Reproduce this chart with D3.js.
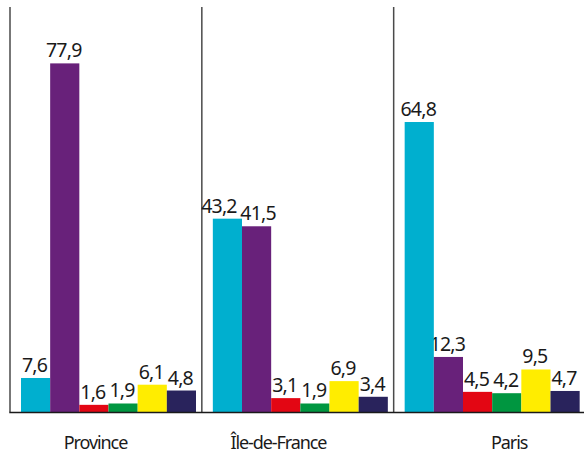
<!DOCTYPE html>
<html><head><meta charset="utf-8">
<script src="https://cdn.jsdelivr.net/npm/d3@7/dist/d3.min.js"></script>
<style>body{margin:0;background:#fff}svg{display:block}</style>
</head><body>
<script>
// ---- data ----
const groups = ["Province", "Île-de-France", "Paris"];
const seriesIdx = [0, 1, 2, 3, 4, 5];
const provinceValues = [7.6, 77.9, 1.6, 1.9, 6.1, 4.8];
const ileDeFranceValues = [43.2, 41.5, 3.1, 1.9, 6.9, 3.4];
const parisValues = [64.8, 12.3, 4.5, 4.2, 9.5, 4.7];
const colors = ["#00afcf", "#68217a", "#e30613", "#009640", "#ffed00", "#29235c"];

const valuesByGroup = [provinceValues, ileDeFranceValues, parisValues];
const W = 584, H = 453;
const catLabelOffset = [85.5, 76.5, 115.5]; // label centre from group start

const svg = d3.select("body").append("svg").attr("width", W).attr("height", H);

const x0 = d3.scaleBand().domain(groups).range([10, 585.5]).padding(0);
const x1 = d3.scaleBand().domain(seriesIdx).range([11, 186]).padding(0);
const y = d3.scaleLinear().domain([0, 90.5]).range([412, 7]);
const fmt = v => v.toFixed(1).replace(".", ",");

const font = "'Noto Sans', 'Open Sans', sans-serif";

const data = [];
groups.forEach((g, gi) => valuesByGroup[gi].forEach((v, si) => data.push({g, gi, si, v})));

// separators
svg.selectAll("line.sep").data(groups).join("line")
  .attr("class", "sep")
  .attr("x1", d => x0(d)).attr("x2", d => x0(d))
  .attr("y1", y(90.5)).attr("y2", y(0))
  .attr("stroke", "#4a4a4a").attr("stroke-width", 1.5);

// value labels (drawn under bars)
const labels = svg.selectAll("text.val").data(data).join("text")
  .attr("class", "val")
  .attr("x", d => x0(d.g) + x1(d.si) + x1.bandwidth() / 2 - 1)
  .attr("y", d => y(d.v) - 6)
  .attr("text-anchor", "middle")
  .attr("font-family", font).attr("font-size", 19.5).attr("letter-spacing", -0.8)
  .attr("fill", "#1a1a1a")
  .text(d => fmt(d.v));

// simple collision avoidance between neighbouring labels of a group
const nodes = labels.nodes();
for (let i = 0; i < nodes.length - 1; i++) {
  const a = nodes[i], b = nodes[i + 1];
  if (a.__data__.gi !== b.__data__.gi) continue;
  const ba = a.getBBox(), bb = b.getBBox();
  const vOver = Math.min(ba.y + ba.height, bb.y + bb.height) - Math.max(ba.y, bb.y);
  const hOver = ba.x + ba.width - bb.x;
  if (vOver > 4 && hOver > -2) {
    const push = hOver + 3;
    a.setAttribute("x", +a.getAttribute("x") - push * 0.75);
    b.setAttribute("x", +b.getAttribute("x") + push * 0.25);
  }
}

// bars
svg.selectAll("rect.bar").data(data).join("rect")
  .attr("class", "bar")
  .attr("x", d => x0(d.g) + x1(d.si))
  .attr("width", x1.bandwidth())
  .attr("y", d => y(d.v))
  .attr("height", d => y(0) - y(d.v))
  .attr("fill", d => colors[d.si]);

// baseline
svg.append("line")
  .attr("x1", x0(groups[0]) - 0.75).attr("x2", W)
  .attr("y1", y(0) + 0.5).attr("y2", y(0) + 0.5)
  .attr("stroke", "#1a1a1a").attr("stroke-width", 1.5);

// category labels
svg.selectAll("text.cat").data(groups).join("text")
  .attr("class", "cat")
  .attr("x", (d, i) => x0(d) + catLabelOffset[i])
  .attr("y", 448.5)
  .attr("text-anchor", "middle")
  .attr("font-family", font).attr("font-size", 18).attr("letter-spacing", -1.1)
  .attr("fill", "#1a1a1a")
  .text(d => d);
</script>
</body></html>
